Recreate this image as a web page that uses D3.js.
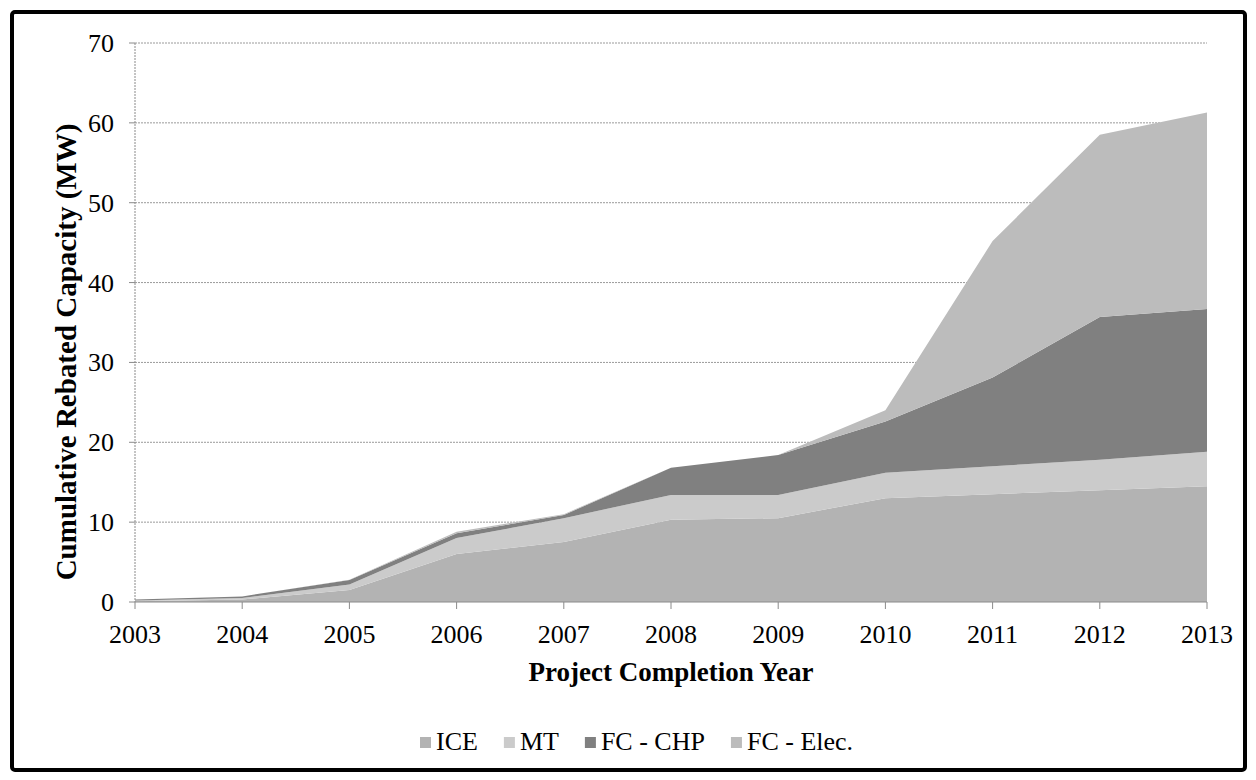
<!DOCTYPE html>
<html><head><meta charset="utf-8">
<script src="https://cdn.jsdelivr.net/npm/d3@7"></script>
<style>body{margin:0;background:#fff}svg{display:block}text{font-family:"Liberation Serif","Times New Roman",serif;fill:#000}</style>
</head><body><svg id="c" width="1256" height="780"></svg>
<script>
const years = [2003,2004,2005,2006,2007,2008,2009,2010,2011,2012,2013];
const seriesNames = ["ICE","MT","FC - CHP","FC - Elec."];
const ice    = [0.1,0.3,1.5,6.0,7.5,10.3,10.5,13.0,13.5,14.0,14.5];
const mt     = [0.1,0.2,0.7,2.0,3.0,3.1,2.9,3.2,3.5,3.8,4.3];
const fcChp  = [0.1,0.2,0.55,0.6,0.4,3.4,5.0,6.4,11.1,17.9,17.9];
const fcElec = [0,0,0.05,0.2,0.1,0,0,1.4,17.1,22.8,24.6];
const yTicks = [0,10,20,30,40,50,60,70];
const colors = ["#b3b3b3","#cbcbcb","#808080","#bcbcbc"];

const svg = d3.select("#c");
svg.append("rect").attr("x",12).attr("y",12).attr("width",1233).attr("height",758)
  .attr("rx",3).attr("fill","#fff").attr("stroke","#000").attr("stroke-width",4);

const L=135,R=1207,T=43,B=602;
const x = d3.scaleLinear().domain([2003,2013]).range([L,R]);
const y = d3.scaleLinear().domain([0,70]).range([B,T]);

const table = years.map((yr,i)=>({year:yr,"ICE":ice[i],"MT":mt[i],"FC - CHP":fcChp[i],"FC - Elec.":fcElec[i]}));
const stack = d3.stack().keys(seriesNames)(table);

// gridlines
svg.append("g").selectAll("line").data(yTicks.filter(d=>d>0)).join("line")
  .attr("x1",L).attr("x2",R).attr("y1",d=>y(d)).attr("y2",d=>y(d))
  .attr("stroke","#9a9a9a").attr("stroke-width",1).attr("stroke-dasharray","2,1");

const area = d3.area().x(d=>x(d.data.year)).y0(d=>y(d[0])).y1(d=>y(d[1]));
svg.append("g").selectAll("path").data(stack).join("path")
  .attr("d",area).attr("fill",(d,i)=>colors[i]);

// y axis line
svg.append("line").attr("x1",L).attr("x2",L).attr("y1",T).attr("y2",B)
  .attr("stroke","#8a8a8a").attr("stroke-dasharray","2,1");
svg.append("g").selectAll("line").data(yTicks).join("line")
  .attr("x1",L-6).attr("x2",L).attr("y1",d=>y(d)).attr("y2",d=>y(d)).attr("stroke","#8a8a8a");
svg.append("g").selectAll("text").data(yTicks).join("text")
  .attr("x",114).attr("y",d=>y(d)+9).attr("text-anchor","end").attr("font-size",26).text(d=>d);

// x axis
svg.append("line").attr("x1",L).attr("x2",R).attr("y1",B).attr("y2",B).attr("stroke","#8a8a8a");
svg.append("g").selectAll("line").data(years).join("line")
  .attr("x1",d=>x(d)).attr("x2",d=>x(d)).attr("y1",B).attr("y2",B+7).attr("stroke","#8a8a8a");
svg.append("g").selectAll("text").data(years).join("text")
  .attr("x",d=>x(d)).attr("y",643).attr("text-anchor","middle").attr("font-size",26).text(d=>d);

svg.append("text").attr("x",671).attr("y",681).attr("text-anchor","middle")
  .attr("font-size",27).attr("font-weight","bold").text("Project Completion Year");
svg.append("text").attr("transform","translate(76,352) rotate(-90)").attr("text-anchor","middle")
  .attr("font-size",29).attr("font-weight","bold").text("Cumulative Rebated Capacity (MW)");

// legend
const lg = svg.append("g");
let cx = 420;
seriesNames.forEach((n,i)=>{
  const g = lg.append("g");
  g.append("rect").attr("x",cx).attr("y",737).attr("width",11).attr("height",11).attr("fill",colors[i]);
  const t = g.append("text").attr("x",cx+16).attr("y",750).attr("font-size",26).text(n);
  cx += 16 + t.node().getComputedTextLength() + 26;
});
</script></body></html>
